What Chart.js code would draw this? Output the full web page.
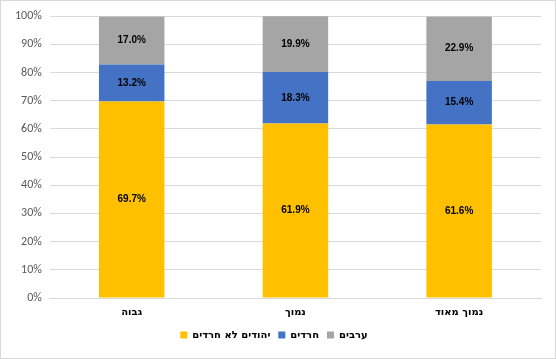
<!DOCTYPE html>
<html>
<head>
<meta charset="utf-8">
<script src="https://cdn.jsdelivr.net/npm/chart.js@4"></script>
<style>
  body { margin: 0; background: #fff; }
  #wrap { width: 556px; height: 359px; box-sizing: border-box; border: 1px solid #d9d9d9; position: relative; }
</style>
</head>
<body>
<div id="wrap"><canvas id="myChart"></canvas></div>
<script>
const categories = ['גבוה', 'נמוך', 'נמוך מאוד'];
const seriesNames = ['יהודים לא חרדים', 'חרדים', 'ערבים'];
const jewsNonHaredi = [69.7, 61.9, 61.6];
const haredi = [13.2, 18.3, 15.4];
const arabs = [17.0, 19.9, 22.9];
const yTicks = [0, 10, 20, 30, 40, 50, 60, 70, 80, 90, 100];
const colors = ['#FFC000', '#4472C4', '#A5A5A5'];

// draws the value in the middle of each bar segment
const segmentLabels = {
    id: 'segmentLabels',
    afterDatasetsDraw(chart) {
        const ctx = chart.ctx;
        ctx.save();
        ctx.font = 'bold 10px "Liberation Sans Narrow", "Liberation Sans", sans-serif';
        ctx.fillStyle = '#000';
        ctx.textAlign = 'center';
        ctx.textBaseline = 'middle';
        chart.data.datasets.forEach((ds, i) => {
            chart.getDatasetMeta(i).data.forEach((bar, j) => {
                const mid = (bar.y + bar.base) / 2;
                ctx.fillText(ds.data[j].toFixed(1) + '%', bar.x, mid);
            });
        });
        ctx.restore();
    }
};

let ctx = document.getElementById('myChart').getContext('2d');

new Chart(ctx, {
    type: 'bar',
    data: {
        labels: categories,
        datasets: [
            { label: seriesNames[0], data: jewsNonHaredi, backgroundColor: colors[0] },
            { label: seriesNames[1], data: haredi, backgroundColor: colors[1] },
            { label: seriesNames[2], data: arabs, backgroundColor: colors[2] },
        ],
    },
    options: {
        responsive: true,
        maintainAspectRatio: false,
        animation: false,
        layout: { padding: { top: 5, right: 14, left: 6, bottom: 8 } },
        datasets: { bar: { barPercentage: 0.4, categoryPercentage: 1 } },
        scales: {
            x: {
                stacked: true,
                grid: { display: false },
                border: { color: '#d9d9d9' },
                ticks: { color: '#000', font: { size: 10, weight: 'bold', family: '"DejaVu Sans", sans-serif' }, padding: 0 },
                afterFit: (axis) => { axis.height += 4; },
            },
            y: {
                stacked: true,
                min: 0,
                max: 100,
                afterBuildTicks: (axis) => { axis.ticks = yTicks.map(v => ({ value: v })); },
                grid: { color: '#d9d9d9', drawTicks: false },
                border: { display: false },
                ticks: {
                    color: '#595959',
                    font: { size: 12, family: 'Carlito, Calibri, "Liberation Sans", sans-serif' },
                    padding: 8,
                    callback: (v) => v + '%',
                },
            },
        },
        plugins: {
            legend: {
                position: 'bottom',
                rtl: false,
                labels: {
                    boxWidth: 7,
                    boxHeight: 7,
                    color: '#000',
                    padding: 8,
                    font: { size: 10, weight: 'bold', family: '"DejaVu Sans", sans-serif' },
                },
            },
            tooltip: { enabled: false },
        },
    },
    plugins: [segmentLabels],
});
</script>
</body>
</html>
